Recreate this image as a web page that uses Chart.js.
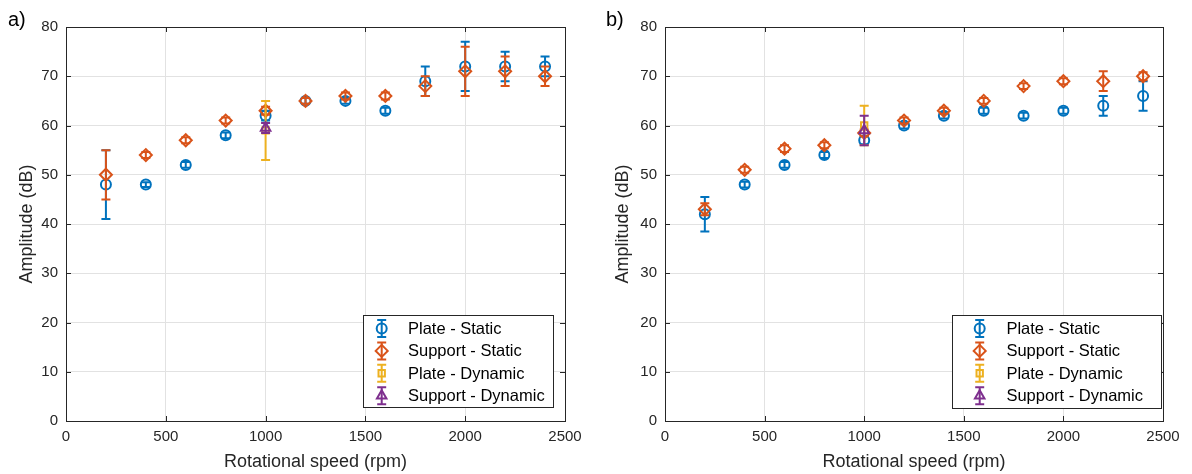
<!DOCTYPE html>
<html>
<head>
<meta charset="utf-8">
<script src="https://cdn.jsdelivr.net/npm/chart.js@4.4.7/dist/chart.umd.min.js"></script>
<style>
  html, body { margin: 0; padding: 0; background: #fff; }
  #wrap { position: relative; width: 1192px; height: 474px; }
  .panel { position: absolute; top: 0; width: 596px; height: 474px; }
</style>
</head>
<body>
<div id="wrap">
  <div class="panel" style="left:0"><canvas id="chartA" width="596" height="474"></canvas></div>
  <div class="panel" style="left:596px"><canvas id="chartB" width="596" height="474"></canvas></div>
</div>
<script>
const speeds = [200, 400, 600, 800, 1000, 1200, 1400, 1600, 1800, 2000, 2200, 2400];
const dynamicSpeed = [1000];
const xTicks = [0, 500, 1000, 1500, 2000, 2500];
const yTicks = [0, 10, 20, 30, 40, 50, 60, 70, 80];
const seriesNames = ['Plate - Static', 'Support - Static', 'Plate - Dynamic', 'Support - Dynamic'];

// panel a)
const aPlateStatic      = [48, 48, 52, 58, 62, 65, 65, 63, 69, 72, 72, 72];
const aPlateStaticErr   = [7, 0.5, 0.6, 0.6, 1, 0.6, 0.6, 0.6, 3, 5, 3, 2];
const aSupportStatic    = [50, 54, 57, 61, 63, 65, 66, 66, 68, 71, 71, 70];
const aSupportStaticErr = [5, 0.6, 0.6, 0.6, 0.8, 0.6, 0.7, 0.7, 2, 5, 3, 2];
const aPlateDynamic     = [59];
const aPlateDynamicErr  = [6];
const aSupportDynamic   = [59.5];
const aSupportDynamicErr = [1];

// panel b)
const bPlateStatic      = [42, 48, 52, 54, 57, 60, 62, 63, 62, 63, 64, 66];
const bPlateStaticErr   = [3.5, 0.6, 0.6, 0.6, 0.8, 0.6, 0.6, 0.6, 0.6, 0.6, 2, 3];
const bSupportStatic    = [43, 51, 55.3, 56, 58.5, 61, 63, 65, 68, 69, 69, 70];
const bSupportStaticErr = [1.2, 0.6, 0.7, 0.6, 0.7, 0.6, 0.6, 0.6, 0.6, 0.6, 2, 0.8];
const bPlateDynamic     = [60];
const bPlateDynamicErr  = [4];
const bSupportDynamic   = [59];
const bSupportDynamicErr = [3];

const colors = ['#0072BD', '#D95319', '#EDB120', '#7E2F8E'];
const markers = ['circle', 'rectRot', 'rect', 'triangle'];
const markerSize = [5, 6, 4.5, 5.5];
const axisColor = '#262626';
const FONT = "'Liberation Sans', Arial, Helvetica, sans-serif";

Chart.defaults.font.family = FONT;
Chart.defaults.color = axisColor;

function toPoints(xs, ys) {
  return ys.map((y, i) => ({ x: xs[i], y }));
}

function makeDataset(k, xs, ys, errs) {
  return {
    label: seriesNames[k],
    data: toPoints(xs, ys),
    errors: errs,
    borderColor: colors[k],
    backgroundColor: 'rgba(0,0,0,0)',
    pointStyle: markers[k],
    pointRadius: markerSize[k],
    pointBorderWidth: 2,
    pointBackgroundColor: 'rgba(0,0,0,0)',
    showLine: false,
    order: 4 - k,
  };
}

// vertical error bars with caps, drawn through the marker
const errorBars = {
  id: 'errorBars',
  beforeDatasetDraw(chart, args) {
    const ds = chart.data.datasets[args.index];
    if (!ds.errors) return;
    const y = chart.scales.y;
    const ctx = chart.ctx;
    ctx.save();
    ctx.strokeStyle = ds.borderColor;
    ctx.lineWidth = 2;
    args.meta.data.forEach((pt, i) => {
      const v = ds.data[i].y, e = ds.errors[i];
      const top = y.getPixelForValue(v + e);
      const bot = y.getPixelForValue(v - e);
      ctx.beginPath();
      ctx.moveTo(pt.x, top); ctx.lineTo(pt.x, bot);
      ctx.moveTo(pt.x - 4.5, top); ctx.lineTo(pt.x + 4.5, top);
      ctx.moveTo(pt.x - 4.5, bot); ctx.lineTo(pt.x + 4.5, bot);
      ctx.stroke();
    });
    ctx.restore();
  }
};

// box, inward ticks, panel letter and legend
const frame = {
  id: 'frame',
  afterDraw(chart, args, opts) {
    const { ctx, chartArea: a, scales } = chart;
    ctx.save();
    ctx.strokeStyle = axisColor;
    ctx.lineWidth = 1;
    ctx.beginPath();
    xTicks.forEach(v => {
      const px = Math.round(scales.x.getPixelForValue(v)) + 0.5;
      ctx.moveTo(px, a.bottom); ctx.lineTo(px, a.bottom - 5);
      ctx.moveTo(px, a.top); ctx.lineTo(px, a.top + 5);
    });
    yTicks.forEach(v => {
      const py = Math.round(scales.y.getPixelForValue(v)) + 0.5;
      ctx.moveTo(a.left, py); ctx.lineTo(a.left + 5, py);
      ctx.moveTo(a.right, py); ctx.lineTo(a.right - 5, py);
    });
    ctx.stroke();
    ctx.strokeRect(Math.round(a.left) + 0.5, Math.round(a.top) + 0.5,
      Math.round(a.right - a.left), Math.round(a.bottom - a.top));

    // panel letter
    ctx.fillStyle = '#000';
    ctx.font = '20px ' + FONT;
    ctx.textBaseline = 'middle';
    ctx.textAlign = 'left';
    ctx.fillText(opts.letter, opts.letterX, 20);

    // legend
    const L = opts.legend;
    ctx.fillStyle = '#fff';
    ctx.fillRect(L.x, L.y, L.w, L.h);
    ctx.strokeStyle = axisColor;
    ctx.strokeRect(L.x + 0.5, L.y + 0.5, L.w, L.h);
    ctx.font = '16.5px ' + FONT;
    chart.data.datasets.forEach((ds, k) => {
      const cy = L.y + 13.5 + k * 22.4;
      const cx = L.x + L.mark;
      ctx.strokeStyle = ds.borderColor;
      ctx.lineWidth = 2;
      ctx.beginPath();
      ctx.moveTo(cx, cy - 8.5); ctx.lineTo(cx, cy + 8.5);
      ctx.moveTo(cx - 4.5, cy - 8.5); ctx.lineTo(cx + 4.5, cy - 8.5);
      ctx.moveTo(cx - 4.5, cy + 8.5); ctx.lineTo(cx + 4.5, cy + 8.5);
      ctx.stroke();
      ctx.fillStyle = 'rgba(0,0,0,0)';
      Chart.helpers.drawPoint(ctx, {
        pointStyle: ds.pointStyle, radius: ds.pointRadius, borderWidth: 2, rotation: 0
      }, cx, cy);
      ctx.fillStyle = '#000';
      ctx.fillText(ds.label, L.x + L.text, cy + 1);
    });
    ctx.restore();
  }
};

function makeChart(id, sets, leftW, rightPad, letter, letterX, legend) {
  return new Chart(document.getElementById(id), {
    type: 'scatter',
    data: { datasets: sets },
    options: {
      responsive: false,
      animation: false,
      layout: { padding: { left: 0, right: rightPad, top: 27, bottom: 0 } },
      plugins: {
        legend: { display: false },
        tooltip: { enabled: false },
        frame: { letter, letterX, legend },
      },
      scales: {
        x: {
          type: 'linear', min: 0, max: 2500,
          afterBuildTicks: s => { s.ticks = xTicks.map(v => ({ value: v })); },
          afterFit: s => { s.height = 53; },
          grid: { color: '#e2e2e2', drawTicks: false },
          border: { display: false },
          ticks: { font: { size: 15 }, color: axisColor, padding: 7, maxRotation: 0, callback: v => String(v) },
          title: { display: true, text: 'Rotational speed (rpm)', font: { size: 18 }, color: axisColor, padding: { top: 0, bottom: 1 } },
        },
        y: {
          type: 'linear', min: 0, max: 80,
          afterBuildTicks: s => { s.ticks = yTicks.map(v => ({ value: v })); },
          afterFit: s => { s.width = leftW; },
          grid: { color: '#e2e2e2', drawTicks: false },
          border: { display: false },
          ticks: { font: { size: 15 }, color: axisColor, padding: 8, callback: v => String(v) },
          title: { display: true, text: 'Amplitude (dB)', font: { size: 18 }, color: axisColor, padding: { top: 16.5, bottom: 0 } },
        },
      },
    },
    plugins: [errorBars, frame],
  });
}

makeChart('chartA', [
  makeDataset(0, speeds, aPlateStatic, aPlateStaticErr),
  makeDataset(1, speeds, aSupportStatic, aSupportStaticErr),
  makeDataset(2, dynamicSpeed, aPlateDynamic, aPlateDynamicErr),
  makeDataset(3, dynamicSpeed, aSupportDynamic, aSupportDynamicErr),
], 66, 31, 'a)', 8, { x: 363, y: 315, w: 190, h: 92, mark: 18.7, text: 45 });

makeChart('chartB', [
  makeDataset(0, speeds, bPlateStatic, bPlateStaticErr),
  makeDataset(1, speeds, bSupportStatic, bSupportStaticErr),
  makeDataset(2, dynamicSpeed, bPlateDynamic, bPlateDynamicErr),
  makeDataset(3, dynamicSpeed, bSupportDynamic, bSupportDynamicErr),
], 69, 29, 'b)', 10, { x: 356, y: 315, w: 209, h: 93, mark: 27.7, text: 54.4 });
</script>
</body>
</html>
